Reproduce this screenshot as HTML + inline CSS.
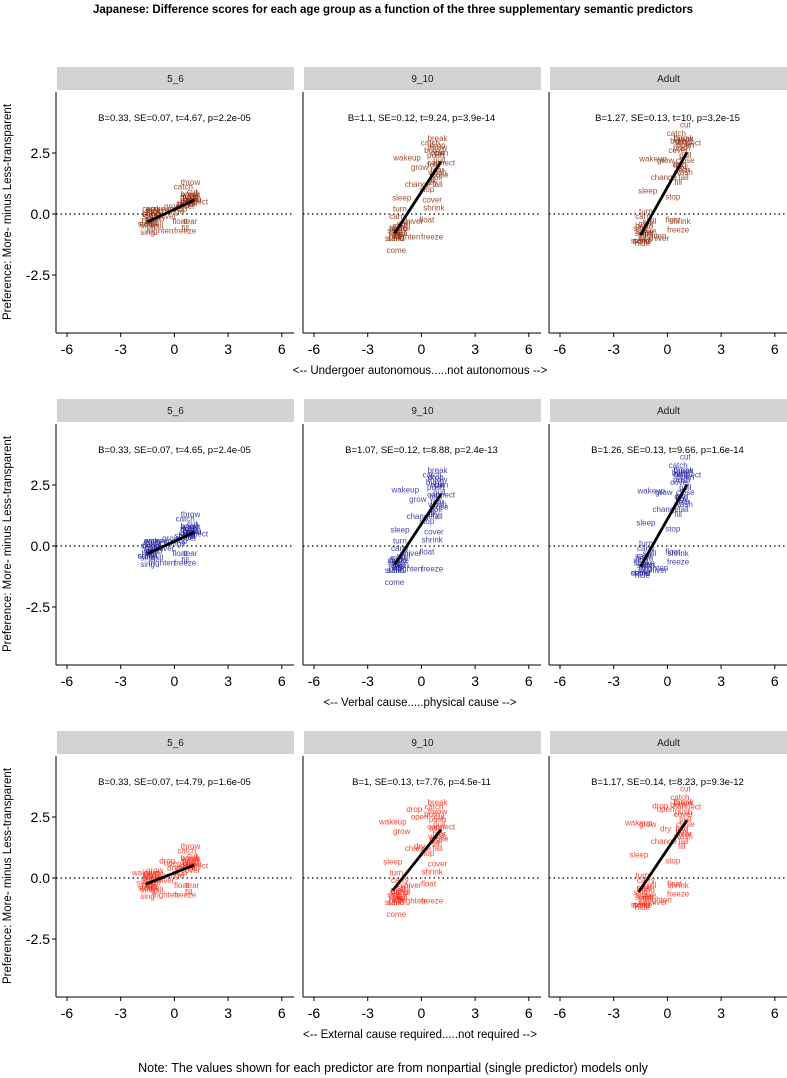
<!DOCTYPE html>
<html><head><meta charset="utf-8">
<style>
html,body{margin:0;padding:0;background:#fff;}
svg{display:block;font-family:"Liberation Sans",sans-serif;}
</style></head>
<body>
<svg id="chart" width="787" height="1078" viewBox="0 0 787 1078">
<text x="393" y="13" text-anchor="middle" font-size="11.5" font-weight="bold" fill="#000">Japanese: Difference scores for each age group as a function of the three supplementary semantic predictors</text>
<text x="393" y="1072" text-anchor="middle" font-size="12.5" fill="#000">Note: The values shown for each predictor are from nonpartial (single predictor) models only</text>
</svg>
<script>
const words = ["throw","catch","cut","break","drop","open","connect","close","wakeup","grow","dry","change","fall","sleep","stop","cover","shrink","turn","carry","float","freeze","hide","shiver","come","frighten","sing","fill","tear","melt","bend","roll","spill","stand","sit","push","pull","fold","wash","burn","boil","shake","lift","sink","swim"];
// predictor values (x) per row
const xUndergoer = [0.9,0.5,1.0,0.9,0.9,1.0,1.1,1.0,-0.8,-0.1,0.6,-0.2,0.9,-1.1,0.3,0.6,0.7,-1.2,-1.3,0.3,0.6,-1.4,-0.5,-1.4,-0.8,-1.5,0.6,0.9,-1.2,-1.3,-1.1,-1.0,-1.5,-1.4,0.8,1.0,0.7,0.9,0.6,0.8,-1.2,-1.4,-1.5,-1.3];
const xVerbal    = [0.9,0.6,1.0,0.9,0.8,1.0,1.1,1.0,-0.9,-0.2,0.7,-0.1,0.9,-1.2,0.3,0.7,0.6,-1.2,-1.2,0.3,0.6,-1.4,-0.6,-1.5,-0.7,-1.5,0.6,0.9,-1.3,-1.3,-1.2,-1.0,-1.5,-1.4,0.8,1.0,0.8,0.9,0.7,0.8,-1.3,-1.4,-1.5,-1.2];
const xExternal  = [0.9,0.7,1.0,0.9,-0.4,-0.1,1.1,1.0,-1.6,-1.1,-0.1,-0.2,0.9,-1.6,0.3,0.9,0.6,-1.4,-1.2,0.4,0.6,-1.4,-0.6,-1.4,-0.5,-1.5,0.8,1.0,-1.3,-1.2,-1.1,-1.0,-1.5,-1.4,0.9,1.0,0.8,0.9,0.6,0.8,-1.2,-1.4,-1.5,-1.3];
// difference scores (y) per age group
const yAge56   = [1.3,1.1,0.9,0.8,0.7,0.6,0.5,0.6,0.2,0.3,0.4,0.1,0.5,-0.2,0.2,0.3,0.4,0.1,0.2,-0.3,-0.7,-0.3,-0.1,-0.4,-0.7,-0.75,-0.6,-0.3,0.15,0.0,-0.2,-0.5,-0.4,-0.2,0.7,0.6,0.5,0.8,0.4,0.6,0.0,-0.3,-0.5,-0.1];
const yAge910  = [2.7,2.9,2.5,3.1,2.8,2.5,2.1,1.6,2.3,1.9,1.3,1.2,1.2,0.65,1.0,0.57,0.25,0.2,-0.1,-0.25,-0.95,-0.9,-0.3,-1.5,-0.95,-0.7,1.4,1.8,-0.5,-0.6,-0.8,-0.4,-1.0,-0.7,2.4,2.2,2.0,1.7,2.6,1.5,-0.6,-0.9,-1.0,-0.8];
const yAdult   = [3.1,3.3,3.65,3.1,2.95,2.8,2.9,2.2,2.25,2.2,2.0,1.5,1.5,0.95,0.7,2.6,-0.3,0.1,-0.1,-0.25,-0.65,-1.2,-1.0,-1.1,-0.9,-0.6,1.3,1.8,-0.4,-0.5,-0.8,-0.3,-1.1,-1.0,2.7,2.4,2.0,1.7,3.0,1.9,-0.7,-0.9,-1.1,-0.8];
const ageLabels = ["5_6","9_10","Adult"];
const predictorTitles = ["<-- Undergoer autonomous.....not autonomous -->","<-- Verbal cause.....physical cause -->","<-- External cause required.....not required -->"];
const statTexts = [
 ["B=0.33, SE=0.07, t=4.67, p=2.2e-05","B=1.1, SE=0.12, t=9.24, p=3.9e-14","B=1.27, SE=0.13, t=10, p=3.2e-15"],
 ["B=0.33, SE=0.07, t=4.65, p=2.4e-05","B=1.07, SE=0.12, t=8.88, p=2.4e-13","B=1.26, SE=0.13, t=9.66, p=1.6e-14"],
 ["B=0.33, SE=0.07, t=4.79, p=1.6e-05","B=1, SE=0.13, t=7.76, p=4.5e-11","B=1.17, SE=0.14, t=8.23, p=9.3e-12"]];
const xTicks = [-6,-3,0,3,6];
const yTicks = [2.5,0,-2.5];

const NS="http://www.w3.org/2000/svg";
const svg=document.getElementById('chart');
function mk(tag,attrs,parent){const e=document.createElementNS(NS,tag);for(const k in attrs)e.setAttribute(k,attrs[k]);(parent||svg).appendChild(e);return e;}
const colLeft=[56,303,549], panelW=237, rowOff=[0,332,664];
const rowColors=["#8e2c0a","#1e1ea0","#ff2410"];
const xsByRow=[xUndergoer,xVerbal,xExternal];
const ysByCol=[yAge56,yAge910,yAdult];
function sx(c,v){return colLeft[c]+11+(v+6)*17.9;}
function sy(r,v){return 214+rowOff[r]-v*24.4;}

for(let r=0;r<3;r++){
  const o=rowOff[r];
  const yt=mk('text',{x:0,y:0,transform:`translate(11,${212+o}) rotate(-90)`,'text-anchor':'middle','font-size':'11.5',fill:'#000'});
  
  
  yt.textContent="Preference: More- minus Less-transparent";
  const xt=mk('text',{x:420,y:374+o,'text-anchor':'middle','font-size':'11.5',fill:'#000'});
  
  
  xt.textContent=predictorTitles[r];
  for(let c=0;c<3;c++){
    const g=mk('g',{});
    
    
    const L=colLeft[c];
    const strip=mk('rect',{x:L+1,y:67+o,width:panelW,height:23,fill:'#d3d3d3'},g);
    
    
    const st=mk('text',{x:L+1+panelW/2,y:82+o,'text-anchor':'middle','font-size':'10',fill:'#1a1a1a'},g);
    
    
    st.textContent=ageLabels[c];
    mk('line',{x1:L,y1:92+o,x2:L,y2:333+o,stroke:'#000','stroke-width':1},g);
    mk('line',{x1:L,y1:333+o,x2:L+panelW+1,y2:333+o,stroke:'#000','stroke-width':1},g);
    xTicks.forEach(v=>{
      const px=sx(c,v);
      mk('line',{x1:px,y1:333+o,x2:px,y2:337+o,stroke:'#000'},g);
      const tl=mk('text',{x:px,y:354+o,'text-anchor':'middle','font-size':'14',fill:'#000'},g);
      
      
      tl.textContent=(v<0?'-':'')+Math.abs(v);
    });
    if(c===0){
      yTicks.forEach(v=>{
        const py=sy(r,v);
        mk('line',{x1:L-4,y1:py,x2:L,y2:py,stroke:'#000'},g);
        const tl=mk('text',{x:L-6,y:py+5,'text-anchor':'end','font-size':'14',fill:'#000'},g);
        
        
        tl.textContent=v.toFixed(1);
      });
    }
    mk('line',{x1:L,y1:sy(r,0),x2:L+panelW+1,y2:sy(r,0),stroke:'#000','stroke-dasharray':'1.5,3','stroke-width':1.2},g);
    const s=mk('text',{x:L+panelW/2,y:121+o,'text-anchor':'middle','font-size':'9.5',fill:'#000'},g);
    
    
    s.textContent=statTexts[r][c];
    const xs=xsByRow[r], ys=ysByCol[c];
    words.forEach((w,i)=>{
      const t=mk('text',{x:sx(c,xs[i]),y:sy(r,ys[i])+2.5,'text-anchor':'middle','font-size':'8','fill':rowColors[r],'fill-opacity':0.85},g);
      
      
      t.textContent=w;
    });
    const n=xs.length;let mx=0,my=0;for(let i=0;i<n;i++){mx+=xs[i];my+=ys[i];}mx/=n;my/=n;
    let sxy=0,sxx=0;for(let i=0;i<n;i++){sxy+=(xs[i]-mx)*(ys[i]-my);sxx+=(xs[i]-mx)**2;}
    const b=sxy/sxx,a=my-b*mx;const x0=Math.min(...xs),x1=Math.max(...xs);
    const ln=mk('line',{x1:sx(c,x0),y1:sy(r,a+b*x0),x2:sx(c,x1),y2:sy(r,a+b*x1),stroke:'#000','stroke-width':2.8},g);
    
    
  }
}
</script>
</body></html>
